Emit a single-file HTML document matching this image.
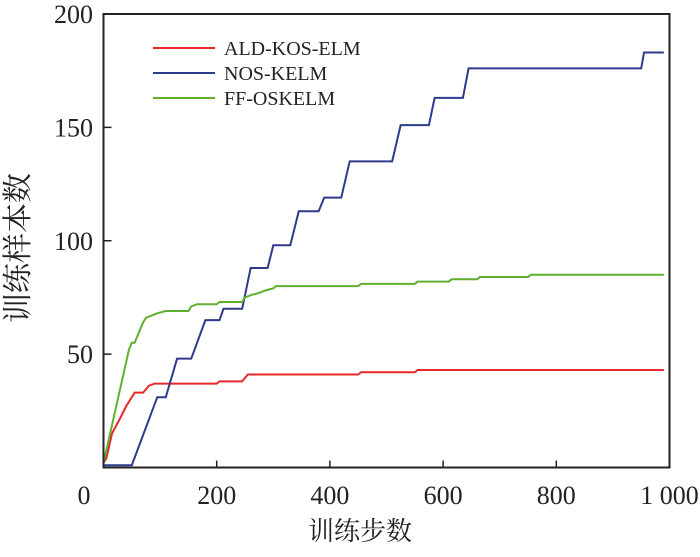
<!DOCTYPE html>
<html><head><meta charset="utf-8"><style>
body{margin:0;background:#fff;}
text{font-family:"Liberation Serif","Noto Serif CJK SC",serif;fill:#222;}
</style></head><body>
<svg id="c" width="700" height="552" xmlns="http://www.w3.org/2000/svg"></svg>
<script>
const xTicks=[0,200,400,600,800,1000];
const xTickLabels=["0","200","400","600","800","1 000"];
const yTicks=[50,100,150,200];
const yTickLabels=["50","100","150","200"];
const seriesNames=["ALD-KOS-ELM","NOS-KELM","FF-OSKELM"];
const seriesColors=["#e8282a","#2e3a8c","#5fb030"];
const aldX=[0,5,15,30,40,55,70,80,90,200,205,245,255,450,455,550,555,990];
const aldY=[2,4,15,22,27,33,33,36,37,37,38,38,41,41,42,42,43,43];
const nosX=[0,50,95,110,130,155,180,205,212,245,260,290,300,330,345,380,390,420,435,510,525,575,585,635,645,950,955,990];
const nosY=[1,1,31,31,48,48,65,65,70,70,88,88,98,98,113,113,119,119,135,135,151,151,163,163,176,176,183,183];
const ffX=[0,45,50,55,60,65,70,75,85,95,110,150,155,165,200,205,245,250,260,275,285,300,305,450,455,550,555,610,615,660,665,750,755,990];
const ffY=[2,52,55,55,58,61,64,66,67,68,69,69,71,72,72,73,73,75,76,77,78,79,80,80,81,81,82,82,83,83,84,84,85,85];
const L=103.5,R=669.5,B=467.5,T=14;
const sx=v=>L+(R-L)*v/1000, sy=v=>B-(B-T)*v/200;
const svg=document.getElementById('c');
function mk(tag,attrs){const e=document.createElementNS('http://www.w3.org/2000/svg',tag);for(const k in attrs)e.setAttribute(k,attrs[k]);svg.appendChild(e);return e;}
const series=[[aldX,aldY],[nosX,nosY],[ffX,ffY]];
series.forEach((s,i)=>{
 const p=mk('polyline',{points:s[0].map((x,j)=>sx(x)+','+sy(s[1][j])).join(' '),fill:'none',stroke:seriesColors[i],'stroke-width':2});
 
 
});
const fr=mk('rect',{x:L,y:T,width:R-L,height:B-T,fill:'none',stroke:'#222','stroke-width':2});


xTicks.forEach((v,i)=>{
 if(v>0&&v<1000){const t=mk('line',{x1:sx(v),x2:sx(v),y1:B,y2:B-7,stroke:'#222','stroke-width':1.5});
 
 }
 const tx=mk('text',{x:v===0?84:sx(v),y:504,'text-anchor':'middle','font-size':26});
 tx.textContent=xTickLabels[i];
 
 
});
yTicks.forEach((v,i)=>{
 if(v<200){const t=mk('line',{x1:L,x2:L+8,y1:sy(v),y2:sy(v),stroke:'#222','stroke-width':1.5});
 
 }
 const tx=mk('text',{x:93,y:sy(v)+9,'text-anchor':'end','font-size':26});
 tx.textContent=yTickLabels[i];
 
 
});
seriesNames.forEach((n,i)=>{
 const y=48+i*25;
 const l=mk('line',{x1:153,x2:215,y1:y,y2:y,stroke:seriesColors[i],'stroke-width':2});
 
 
 const t=mk('text',{x:224,y:y+7,'font-size':20});
 t.textContent=n;
 
 
});
const xl=mk('text',{x:360,y:540,'text-anchor':'middle','font-size':26});
xl.textContent='训练步数';


const yl=mk('text',{x:0,y:0,'text-anchor':'middle','font-size':30,transform:'translate(28,248) rotate(-90)'});
yl.textContent='训练样本数';


</script>
</body></html>
